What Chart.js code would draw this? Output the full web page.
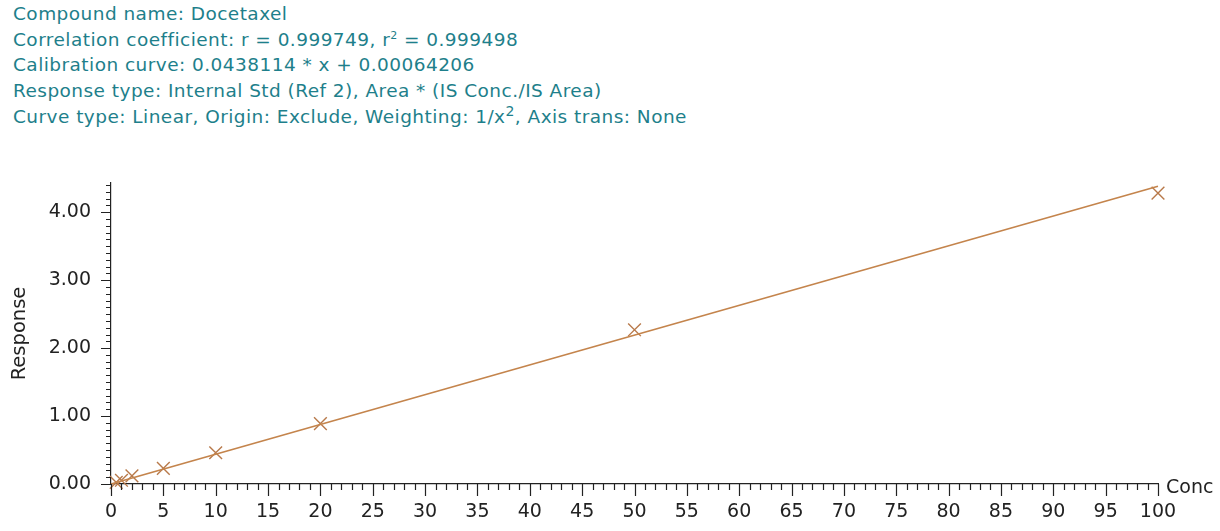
<!DOCTYPE html>
<html>
<head>
<meta charset="utf-8">
<script src="https://cdn.jsdelivr.net/npm/chart.js@4.4.1/dist/chart.umd.min.js"></script>
<style>
  body { margin: 0; background: #fff; width: 1220px; height: 531px; overflow: hidden; font-family: "DejaVu Sans", Verdana, sans-serif; }
  #info { position: absolute; left: 13px; top: 1px; color: #1e7f8b; font-size: 18.5px; letter-spacing: 0.45px; line-height: 25.7px; white-space: nowrap; }
  #info sup { line-height: 0; }
  #info .s1 { font-size: 11px; }
  #info .s2 { font-size: 14px; }
  #wrap { position: absolute; left: 0; top: 150px; width: 1220px; height: 381px; }
</style>
</head>
<body>
<div id="info">
  <div>Compound name: Docetaxel</div>
  <div>Correlation coefficient: r = 0.999749, r<sup class="s1">2</sup> = 0.999498</div>
  <div>Calibration curve: 0.0438114 * x + 0.00064206</div>
  <div>Response type: Internal Std (Ref 2), Area * (IS Conc./IS Area)</div>
  <div>Curve type: Linear, Origin: Exclude, Weighting: 1/x<sup class="s2">2</sup>, Axis trans: None</div>
</div>
<div id="wrap"><canvas id="myChart"></canvas></div>
<script>
"use strict";
/* data */
var concValues = [0.5, 1, 2, 5, 10, 20, 50, 100];
var responseValues = [0.025, 0.055, 0.12, 0.23, 0.46, 0.89, 2.27, 4.28];
/* calibration curve: y = slope * x + intercept */
var curveSlope = 0.0438114;
var curveIntercept = 0.00064206;
var curveRange = [0, 100];
/* tick labels */
var xTicks = [0, 5, 10, 15, 20, 25, 30, 35, 40, 45, 50, 55, 60, 65, 70, 75, 80, 85, 90, 95, 100];
var yTicks = ["0.00", "1.00", "2.00", "3.00", "4.00"];

var axisColor = '#222';
var markColor = '#b8794a';
var lineColor = '#c4844c';
var fontFamily = '"DejaVu Sans", Verdana, sans-serif';

var points = concValues.map(function(c, i) {
  return { x: c, y: responseValues[i] };
});
var curve = curveRange.map(function(c) {
  return { x: c, y: curveSlope * c + curveIntercept };
});

/* minor + major tick marks and the "Conc" label */
var tickMarks = {
  id: 'tickMarks',
  afterDraw: function(chart) {
    var ctx = chart.ctx;
    var xs = chart.scales.x, ys = chart.scales.y;
    var x0 = xs.getPixelForValue(0), y0 = ys.getPixelForValue(0);
    ctx.save();
    ctx.strokeStyle = axisColor;
    ctx.lineWidth = 1.2;
    ctx.beginPath();
    for (var i = 0; i <= 100; i++) {
      var px = Math.round(xs.getPixelForValue(i)) + 0.5;
      var lx = i % 5 === 0 ? 12 : 6;
      ctx.moveTo(px, y0);
      ctx.lineTo(px, y0 + lx);
    }
    for (var j = 0; j <= 44; j++) {
      var py = Math.round(ys.getPixelForValue(j / 10)) + 0.5;
      var ly = j % 10 === 0 ? 10 : 5;
      ctx.moveTo(x0, py);
      ctx.lineTo(x0 - ly, py);
    }
    ctx.stroke();
    ctx.fillStyle = axisColor;
    ctx.font = '19px ' + fontFamily;
    ctx.textBaseline = 'middle';
    ctx.fillText('Conc', xs.right + 8, y0 + 4);
    ctx.restore();
  }
};

var ctx = document.getElementById('myChart').getContext('2d');
var chart = new Chart(ctx, {
  type: 'scatter',
  data: {
    datasets: [{
      label: 'Curve',
      data: curve,
      showLine: true,
      borderColor: lineColor,
      borderWidth: 1.7,
      pointRadius: 0,
      clip: false
    },
    {
      label: 'Standards',
      data: points,
      pointStyle: 'crossRot',
      pointRadius: 9,
      borderColor: markColor,
      borderWidth: 1.4,
      clip: false
    }]
  },
  options: {
    responsive: true,
    maintainAspectRatio: false,
    animation: false,
    layout: { padding: { top: 33, right: 62, left: 0, bottom: 0 } },
    plugins: {
      legend: { display: false },
      tooltip: { enabled: false }
    },
    scales: {
      x: {
        type: 'linear',
        min: 0,
        max: 100,
        afterBuildTicks: function(scale) {
          scale.ticks = xTicks.map(function(v) { return { value: v }; });
        },
        afterFit: function(scale) { scale.height = 47; },
        grid: { display: false, drawTicks: false },
        border: { display: true, color: axisColor, width: 1.2 },
        ticks: {
          color: axisColor,
          padding: 17,
          maxRotation: 0,
          autoSkip: false,
          font: { family: fontFamily, size: 19 },
          callback: function(v) { return String(v); }
        }
      },
      y: {
        type: 'linear',
        min: 0,
        max: 4.43,
        afterBuildTicks: function(scale) {
          scale.ticks = yTicks.map(function(v) { return { value: parseFloat(v) }; });
        },
        afterFit: function(scale) { scale.width = 111; },
        grid: { display: false, drawTicks: false },
        border: { display: true, color: axisColor, width: 1.2 },
        title: {
          display: true,
          text: 'Response',
          color: axisColor,
          padding: { top: 8, bottom: 0 },
          font: { family: fontFamily, size: 19.5 }
        },
        ticks: {
          color: axisColor,
          padding: 20,
          autoSkip: false,
          font: { family: fontFamily, size: 19 },
          callback: function(v) {
            var k = yTicks.map(parseFloat).indexOf(v);
            return k >= 0 ? yTicks[k] : '';
          }
        }
      }
    }
  },
  plugins: [tickMarks]
});
</script>
</body>
</html>
